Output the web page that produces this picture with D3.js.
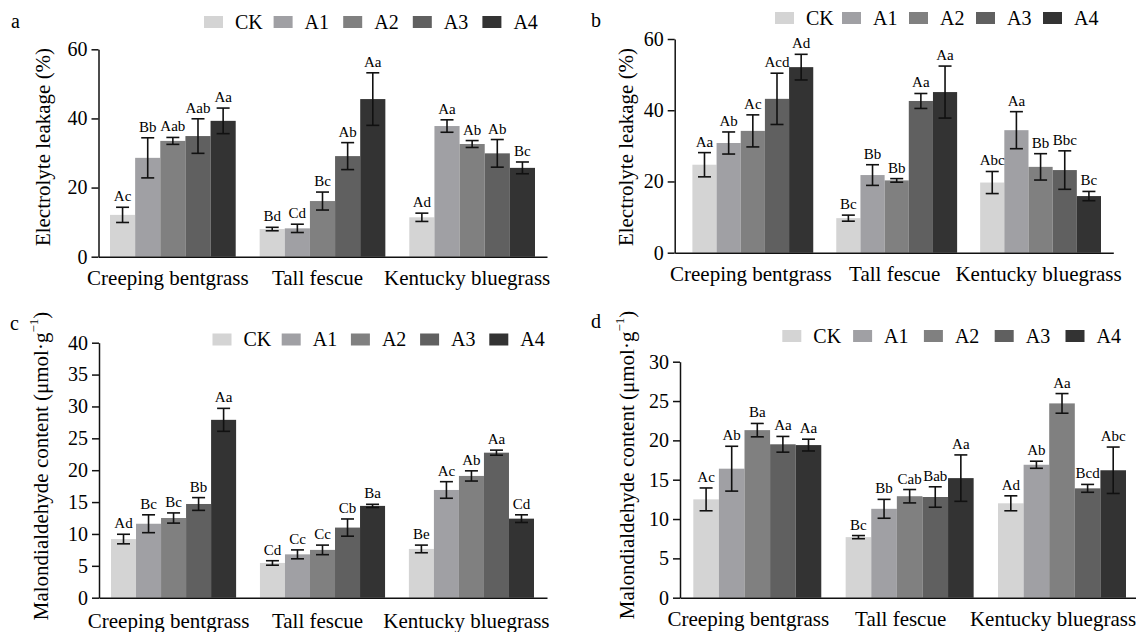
<!DOCTYPE html>
<html>
<head>
<meta charset="utf-8">
<script src="https://cdn.jsdelivr.net/npm/d3@7"></script>
<style>
  body { margin: 0; background: #fff; }
  text { font-family: "Liberation Serif", "Times New Roman", serif; fill: #000; }
</style>
</head>
<body>
<svg id="chart" width="1136" height="632"></svg>
<script>
const groups = ['Creeping bentgrass', 'Tall fescue', 'Kentucky bluegrass'];
const treatments = ['CK', 'A1', 'A2', 'A3', 'A4'];
const shades = ['#d4d4d4', '#a0a0a4', '#808080', '#606060', '#333333'];

// a: electrolyte leakage (%)
const leakA = [[12.1, 28.6, 33.5, 34.9, 39.3], [8.0, 8.2, 16.1, 29.1, 45.6], [11.4, 37.8, 32.6, 29.9, 25.7]];
const leakAErr = [[2.2, 5.8, 1.0, 5.0, 3.7], [0.5, 1.2, 2.6, 3.9, 7.6], [1.2, 1.8, 1.0, 4.0, 1.7]];
const leakALetters = [['Ac', 'Bb', 'Aab', 'Aab', 'Aa'], ['Bd', 'Cd', 'Bc', 'Ab', 'Aa'], ['Ad', 'Aa', 'Ab', 'Ab', 'Bc']];

// b: electrolyte leakage (%)
const leakB = [[24.7, 30.8, 34.2, 43.2, 52.1], [9.7, 21.8, 20.3, 42.6, 45.1], [19.7, 34.4, 24.1, 23.2, 15.9]];
const leakBErr = [[3.4, 3.1, 4.5, 7.2, 3.6], [0.85, 2.9, 0.5, 2.1, 7.3], [3.1, 5.2, 3.7, 5.4, 1.3]];
const leakBLetters = [['Aa', 'Ab', 'Ac', 'Acd', 'Ad'], ['Bc', 'Bb', 'Bb', 'Aa', 'Aa'], ['Abc', 'Aa', 'Bb', 'Bbc', 'Bc']];

// c: malondialdehyde content
const mdaC = [[9.2, 11.6, 12.5, 14.7, 27.9], [5.45, 6.8, 7.5, 11.0, 14.4], [7.65, 16.9, 19.1, 22.75, 12.4]];
const mdaCErr = [[0.75, 1.4, 0.8, 1.0, 1.8], [0.35, 0.7, 0.75, 1.35, 0.25], [0.6, 1.3, 0.8, 0.4, 0.6]];
const mdaCLetters = [['Ad', 'Bc', 'Bc', 'Bb', 'Aa'], ['Cd', 'Cc', 'Cc', 'Cb', 'Ba'], ['Be', 'Ac', 'Ab', 'Aa', 'Cd']];

// d: malondialdehyde content
const mdaD = [[12.5, 16.4, 21.3, 19.5, 19.4], [7.7, 11.3, 12.9, 12.8, 15.2], [12.0, 16.9, 24.7, 13.9, 16.2]];
const mdaDErr = [[1.45, 2.85, 0.85, 1.0, 0.75], [0.2, 1.2, 0.85, 1.3, 2.95], [0.95, 0.45, 1.25, 0.5, 2.95]];
const mdaDLetters = [['Ac', 'Ab', 'Ba', 'Aa', 'Aa'], ['Bc', 'Bb', 'Cab', 'Bab', 'Aa'], ['Ad', 'Ab', 'Aa', 'Bcd', 'Abc']];

const leakTicks = [0, 20, 40, 60];
const mdaCTicks = [0, 5, 10, 15, 20, 25, 30, 35, 40];
const mdaDTicks = [0, 5, 10, 15, 20, 25, 30];

const panels = [
  { tag: 'a', values: leakA, errors: leakAErr, letters: leakALetters, ticks: leakTicks, yLabel: 'leak',
    ax0: 98.5, ax1: 547, bx0: 110, bx1: 535, y0: 256.7, yTop: 49.3, labY: 285, labDx: -5,
    ylx: 43, yly: 147, lx: 204, lstep: 69.6, ly: 16, tagX: 11, tagY: 28 },
  { tag: 'b', values: leakB, errors: leakBErr, letters: leakBLetters, ticks: leakTicks, yLabel: 'leak',
    ax0: 674.7, ax1: 1113.3, bx0: 692.4, bx1: 1101, y0: 252.7, yTop: 39, labY: 281, labDx: -2,
    ylx: 626, yly: 147, lx: 775, lstep: 67, ly: 12, tagX: 591, tagY: 27 },
  { tag: 'c', values: mdaC, errors: mdaCErr, letters: mdaCLetters, ticks: mdaCTicks, yLabel: 'mda',
    ax0: 99, ax1: 547, bx0: 111, bx1: 534, y0: 597.7, yTop: 342.7, labY: 628, labDx: -5,
    ylx: 41, yly: 466, lx: 212.5, lstep: 69.2, ly: 333.5, tagX: 10, tagY: 330 },
  { tag: 'd', values: mdaD, errors: mdaDErr, letters: mdaDLetters, ticks: mdaDTicks, yLabel: 'mda',
    ax0: 680, ax1: 1140, bx0: 693.3, bx1: 1126, y0: 597.7, yTop: 361.7, labY: 626, labDx: -9,
    ylx: 627, yly: 465, lx: 782.3, lstep: 70.8, ly: 330, tagX: 591, tagY: 328 }
];

const svg = d3.select('#chart');
const color = d3.scaleOrdinal().domain(treatments).range(shades);

function drawPanel(p) {
  const g = svg.append('g');
  const yMax = p.ticks[p.ticks.length - 1];
  const y = d3.scaleLinear().domain([0, yMax]).range([p.y0, p.yTop]);
  const x0 = d3.scaleBand().domain(groups).range([p.bx0, p.bx1]).paddingInner(0.16);
  const x1 = d3.scaleBand().domain(treatments).range([0, x0.bandwidth()]);

  const rows = p.values.flatMap((vals, i) => vals.map((v, j) => ({
    group: groups[i], t: treatments[j], v: v, e: p.errors[i][j], lab: p.letters[i][j]
  })));

  const cx = d => x0(d.group) + x1(d.t) + x1.bandwidth() / 2;

  g.selectAll('rect.bar').data(rows)
    .enter().append('rect')
    .attr('class', 'bar')
    .attr('x', d => x0(d.group) + x1(d.t))
    .attr('y', d => y(d.v))
    .attr('width', x1.bandwidth())
    .attr('height', d => y(0) - y(d.v))
    .attr('fill', d => color(d.t));

  // error bars
  const eb = g.selectAll('g.err').data(rows).enter().append('g')
    .attr('stroke', '#111').attr('stroke-width', 1.6);
  eb.append('line')
    .attr('x1', cx).attr('x2', cx)
    .attr('y1', d => y(d.v - d.e)).attr('y2', d => y(d.v + d.e));
  eb.append('line')
    .attr('x1', d => cx(d) - 6.5).attr('x2', d => cx(d) + 6.5)
    .attr('y1', d => y(d.v + d.e)).attr('y2', d => y(d.v + d.e));
  eb.append('line')
    .attr('x1', d => cx(d) - 6.5).attr('x2', d => cx(d) + 6.5)
    .attr('y1', d => y(d.v - d.e)).attr('y2', d => y(d.v - d.e));

  g.selectAll('text.sig').data(rows)
    .enter().append('text')
    .attr('class', 'sig')
    .attr('x', cx)
    .attr('y', d => y(d.v + d.e) - 6)
    .attr('text-anchor', 'middle')
    .attr('font-size', 15)
    .text(d => d.lab);

  // axes
  const yAxisG = g.append('g')
    .attr('transform', `translate(${p.ax0},0)`)
    .call(d3.axisLeft(y).tickValues(p.ticks).tickSize(7).tickPadding(4).tickSizeOuter(0));
  const xLine = d3.scaleLinear().range([p.ax0, p.ax1]);
  const xAxisG = g.append('g')
    .attr('transform', `translate(0,${p.y0})`)
    .call(d3.axisBottom(xLine).tickValues([]).tickSizeOuter(0));
  [yAxisG, xAxisG].forEach(a => {
    a.selectAll('path, line').attr('stroke', '#111').attr('stroke-width', 1.5);
    a.selectAll('text').attr('font-size', 20)
      .attr('font-family', '"Liberation Serif", "Times New Roman", serif').attr('fill', '#000');
  });

  // category labels
  g.selectAll('text.cat').data(groups)
    .enter().append('text')
    .attr('class', 'cat')
    .attr('x', d => x0(d) + x0.bandwidth() / 2 + p.labDx)
    .attr('y', p.labY)
    .attr('text-anchor', 'middle')
    .attr('font-size', 21)
    .text(d => d);

  // y label
  const yl = g.append('text')
    .attr('transform', `translate(${p.ylx},${p.yly}) rotate(-90)`)
    .attr('text-anchor', 'middle')
    .attr('dominant-baseline', 'central')
    .attr('font-size', 21);
  if (p.yLabel === 'leak') {
    yl.text('Electrolyte leakage (%)');
  } else {
    yl.append('tspan').text('Malondialdehyde content (μmol·g');
    yl.append('tspan').attr('font-size', 13).attr('dy', -8).text('−1');
    yl.append('tspan').attr('dy', 8).text(')');
  }

  // legend
  const lg = g.selectAll('g.leg').data(treatments).enter().append('g')
    .attr('transform', (d, i) => `translate(${p.lx + i * p.lstep},${p.ly})`);
  lg.append('rect').attr('width', 19).attr('height', 12).attr('fill', d => color(d));
  lg.append('text').attr('x', 31).attr('y', 12.5).attr('font-size', 20).text(d => d);

  g.append('text').attr('x', p.tagX).attr('y', p.tagY).attr('font-size', 20).text(p.tag);
}

panels.forEach(drawPanel);
</script>
</body>
</html>
